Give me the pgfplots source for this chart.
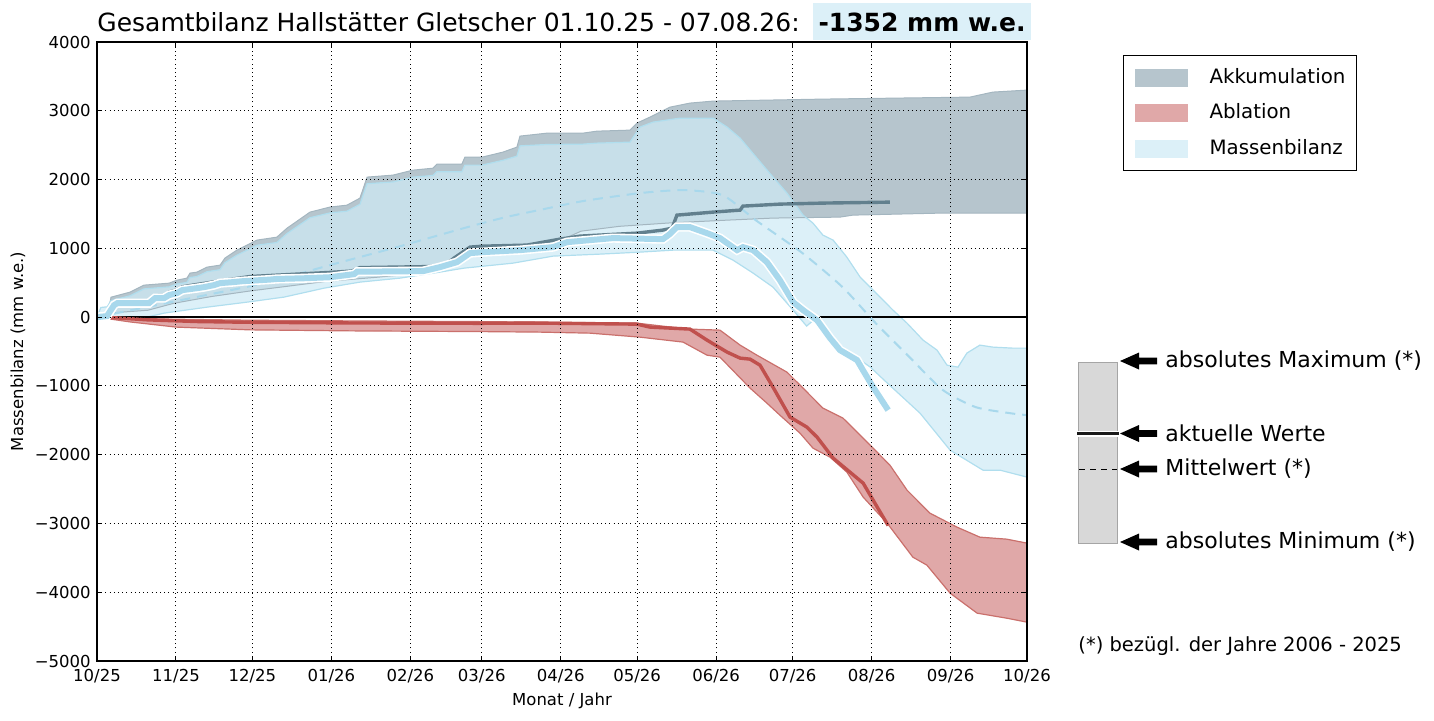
\documentclass[border=0pt]{standalone}
\usepackage{fontspec}
\setmainfont{DejaVu Sans}
\usepackage{pgfplots}
\pgfplotsset{compat=1.18}
\usepackage{pgfplotstable}
\usepgfplotslibrary{fillbetween}

\definecolor{accfill}{RGB}{182,197,205}
\definecolor{accedge}{RGB}{164,182,192}
\definecolor{ablfill}{RGB}{224,168,168}
\definecolor{abledge}{RGB}{202,112,108}
\definecolor{mbfill}{RGB}{206,234,245}
\definecolor{mbleg}{RGB}{220,240,248}
\definecolor{mbedge}{RGB}{176,222,238}
\definecolor{mbline}{RGB}{168,216,236}
\definecolor{accline}{RGB}{98,128,142}
\definecolor{ablline}{RGB}{192,80,77}
\definecolor{boxcol}{RGB}{220,240,248}
\definecolor{bargrey}{RGB}{216,216,216}
\definecolor{baredge}{RGB}{165,165,165}

% Akkumulation: maximum / minimum
\pgfplotstableread{
x y
0 0
4 0
5.5 290
13 364
18.4 465
28.3 494
31.4 538
35.3 567
36.5 640
39.2 654
43.2 727
48.3 756
50.2 858
54.9 974
62.8 1120
70.6 1163
74.6 1294
83.6 1527
91.4 1600
98.1 1628
103.2 1730
106 2036
116.2 2065
124 2137
131.9 2166
133.4 2225
143.2 2225
144.4 2326
151.1 2326
159.3 2399
164.8 2472
166 2632
176.6 2675
190.7 2675
196.2 2704
209.2 2719
211.9 2821
217 2908
224.9 3053
232.7 3112
241.8 3141
284.9 3170
342.6 3199
351.6 3272
365 3301
}\accU
\pgfplotstableread{
x y
0 0
5 60
20 100
30 200
45 300
60 380
75 450
90 520
110 580
130 650
140 870
160 950
178 1050
190 1250
205 1320
225 1370
247.3 1410
265.3 1440
291.6 1454
296.7 1483
330.8 1512
365 1512
}\accL
% Ablation: maximum / minimum
\pgfplotstableread{
x y
0 0
10 -15
30 -30
60 -45
100 -55
150 -65
173.9 -73
211.9 -87
222 -131
232.7 -174
244.5 -189
252.4 -407
259 -553
270.8 -800
277.1 -1032
284.9 -1323
292.8 -1469
300.7 -1759
311.2 -2152
317.9 -2515
326.9 -2850
337.5 -3053
346.5 -3199
357 -3228
365 -3286
}\abU
\pgfplotstableread{
x y
0 0
13 -70
31 -145
60 -185
100 -200
150 -210
173.9 -218
193.5 -233
213.1 -291
230 -363
239.4 -553
244.5 -582
256.3 -1032
262.9 -1250
268 -1425
275.9 -1687
281 -1905
287.7 -2036
294.3 -2254
300.7 -2617
310.1 -2995
320.2 -3490
325.7 -3606
334.8 -4013
345.4 -4304
357 -4377
365 -4435
}\abL
% Massenbilanz: maximum / minimum / Mittelwert
\pgfplotstableread{
x y
0 0
1.5 140
4 150
5.5 240
13 310
18.4 410
28.3 440
31.4 480
35.3 505
36.5 575
39.2 590
43.2 660
48.3 690
50.2 790
54.9 900
62.8 1045
70.6 1085
74.6 1215
83.6 1445
91.4 1515
98.1 1540
103.2 1640
106 1940
116.2 1965
124 2035
131.9 2060
133.4 2115
143.2 2115
144.4 2210
151.1 2210
159.3 2280
164.8 2340
166 2490
176.6 2510
190.7 2515
196.2 2530
209.2 2544
213.1 2763
218.2 2835
228.8 2893
241.8 2893
247.3 2763
252.4 2603
259 2312
265.3 2036
270.8 1803
277.1 1483
281 1367
284.9 1192
288.9 1120
294.3 872
299.5 582
304.6 393
312.4 102
317.9 -87
324.2 -334
329.7 -480
333.6 -698
337.9 -727
341.4 -523
346.5 -407
351.6 -436
359.5 -451
365 -451
}\mbU
\pgfplotstableread{
x y
0 0
19.6 0
26.3 58
43.2 145
58.9 218
73.4 291
89.1 421
103.2 509
118.9 567
134.6 654
144 712
163.3 785
179 887
197.4 916
213.1 945
226.1 974
241.8 974
249.6 829
257.5 640
265.3 436
273.2 102
278.5 -130
281.7 -30
289 -334
296.8 -553
303.5 -727
310.2 -960
323 -1396
334.8 -1934
347.7 -2225
354.4 -2225
365 -2326
}\mbL
\pgfplotstableread{
x y
0 0
20 150
40 300
60 450
77.3 611
91.4 756
117.7 1018
144 1294
160 1450
174 1560
190.7 1687
213.1 1803
230 1847
245.5 1774
258.5 1410
276.9 930
292.6 436
305.6 -87
318.9 -582
332 -1061
344.9 -1309
358.2 -1396
365 -1425
}\mbM
% aktuelle Werte 2025/26
\pgfplotstableread{
x y
0 0
3.9 15
6.7 174
8 203
20.4 203
22.8 276
26.3 276
28.3 320
31.4 349
33.4 392
39.2 421
42 436
45.9 465
48.3 494
53.4 509
57.3 523
67.5 545
70.6 555
81.2 565
91.4 580
100.9 625
102.1 660
128 669
134.6 727
141.3 800
146.4 931
151.5 945
166 974
179 1018
184.5 1090
202.5 1149
222.1 1134
224.9 1210
227.6 1309
232.7 1309
239.4 1221
244.5 1149
251.2 974
253.5 1018
257.5 974
262.9 800
268 538
273.2 218
277.1 102
282.6 -44
287.7 -305
291.6 -480
298.3 -625
300.6 -771
304.6 -1018
310.5 -1352
}\mbC
\pgfplotstableread{
x y
0 0
3.9 20
6.7 185
8 215
20.4 230
22.8 310
26.3 315
28.3 365
31.4 395
33.4 440
39.2 475
42 490
47 520
60 590
91.4 650
100 670
103.2 720
130.7 735
137 760
140.1 858
146.4 1018
151.5 1032
168.7 1047
181.7 1134
189.6 1178
211.9 1221
222 1265
225.7 1294
227.6 1483
241.8 1527
252.4 1556
253.5 1614
268 1643
284.9 1658
311.2 1672
}\accC
\pgfplotstableread{
x y
0 0
5 -5
20 -40
40 -65
60 -75
100 -85
150 -90
173.9 -87
211.9 -102
217 -145
232.7 -174
239.4 -334
247.3 -509
252.4 -596
256.3 -611
260.2 -698
265.3 -1018
272 -1454
278.6 -1599
282.6 -1745
288.9 -2050
295.5 -2254
300.7 -2414
304.6 -2661
310.5 -3030
}\abC

\begin{document}
\begin{tikzpicture}
\begin{axis}[
  at={(48.5pt,-330.5pt)}, anchor=south west,
  scale only axis, width=465pt, height=309.5pt,
  xmin=0, xmax=365, ymin=-5000, ymax=4000,
  xtick={0,31,61,92,123,151,182,212,243,273,304,335,365},
  xticklabels={10/25,11/25,12/25,01/26,02/26,03/26,04/26,05/26,06/26,07/26,08/26,09/26,10/26},
  ytick={-5000,-4000,-3000,-2000,-1000,0,1000,2000,3000,4000},
  yticklabels={−5000,−4000,−3000,−2000,−1000,0,1000,2000,3000,4000},
  tick label style={font=\fontsize{8.25}{10}\selectfont},
  xticklabel style={anchor=center, inner sep=0pt, yshift=-7.6pt},
  yticklabel style={anchor=east, inner sep=0pt, xshift=-3pt},
  xlabel={Monat / Jahr}, ylabel={Massenbilanz (mm w.e.)},
  label style={font=\fontsize{8.25}{10}\selectfont},
  xlabel style={at={(axis description cs:0.5,-0.0646)}, anchor=center, inner sep=0pt},
  ylabel style={at={(axis description cs:-0.0849,0.5)}, anchor=center, inner sep=0pt},
  grid=major,
  major grid style={black, line width=0.5pt, dash pattern=on 0.5pt off 1.6pt},
  tick align=inside, xtick pos=both, ytick pos=both,
  major tick length=2.6pt,
  tick style={black, line width=0.5pt},
  axis line style={line width=0.6pt},
  axis on top,
  legend style={at={(axis description cs:1.1032,0.979)}, anchor=north west,
    draw=black, line width=0.6pt, inner xsep=5.5pt, inner ysep=6.5pt,
    row sep=8.8pt, font=\fontsize{9.9}{12}\selectfont,
    nodes={inner sep=0pt, text height=7.2pt, text depth=1.8pt},
    /tikz/every odd column/.append style={column sep=11pt}},
  legend cell align=left,
  legend image code/.code={\path[draw=none,#1,draw=none] (0pt,-4.5pt) rectangle (26.5pt,4.5pt);},
]
% Akkumulation band
\addplot[name path=accU, draw=none, forget plot] table {\accU};
\addplot[name path=accL, draw=none, forget plot] table {\accL};
\addplot[fill=accfill, draw=none, forget plot] fill between[of=accU and accL];
\addplot[accedge, line width=0.5pt, forget plot] table {\accU};
\addplot[accedge, line width=0.5pt, forget plot] table {\accL};
% Ablation band
\addplot[name path=abU, draw=none, forget plot] table {\abU};
\addplot[name path=abL, draw=none, forget plot] table {\abL};
\addplot[fill=ablfill, draw=none, forget plot] fill between[of=abU and abL];
\addplot[abledge, line width=0.6pt, forget plot] table {\abU};
\addplot[abledge, line width=0.6pt, forget plot] table {\abL};
% Massenbilanz band
\addplot[name path=mbU, draw=none, forget plot] table {\mbU};
\addplot[name path=mbL, draw=none, forget plot] table {\mbL};
\addplot[fill=mbfill, fill opacity=0.72, draw=none, forget plot] fill between[of=mbU and mbL];
\addplot[mbedge, line width=0.6pt, forget plot] table {\mbU};
\addplot[mbedge, line width=0.6pt, forget plot] table {\mbL};
% zero line
\addplot[black, line width=1pt, forget plot] coordinates {(0,0) (365,0)};
% Mittelwert Massenbilanz
\addplot[mbline, line width=1pt, dash pattern=on 5pt off 3.5pt, smooth, tension=0.4, forget plot] table {\mbM};
% aktuelle Werte
\addplot[accline, line width=1.7pt, forget plot] table {\accC};
\addplot[ablline, line width=1.7pt, forget plot] table {\abC};
\addplot[white, line width=4.6pt, forget plot] table {\mbC};
\addplot[mbline, line width=3pt, forget plot] table {\mbC};
% legend
\addlegendimage{fill=accfill}
\addlegendentry{Akkumulation}
\addlegendimage{fill=ablfill}
\addlegendentry{Ablation}
\addlegendimage{fill=mbleg}
\addlegendentry{Massenbilanz}
\end{axis}

\begin{scope}[x=0.5pt,y=-0.5pt]
% title
\node[anchor=base west, inner sep=0pt, font=\fontsize{12.5}{15}\selectfont] at (97,31) {Gesamtbilanz Hallstätter Gletscher 01.10.25 - 07.08.26:};
\fill[boxcol] (813,3) rectangle (1031,40);
\node[anchor=base, inner sep=0pt, font=\bfseries\fontsize{12.5}{15}\selectfont] at (922,31) {-1352 mm w.e.};
% explanation bar
\filldraw[fill=bargrey, draw=baredge, line width=0.5pt] (1078,362) rectangle (1117,543);
\draw[white, line width=3pt] (1077,433.5) -- (1119,433.5);
\draw[black!90, line width=1.7pt] (1077,433.5) -- (1119,433.5);
\draw[black, line width=0.5pt, dash pattern=on 3pt off 2.5pt] (1079,469) -- (1117,469);
\foreach \yy in {361,433.5,469,542}{
  \fill[black] (1120,\yy) -- (1139,\yy-8.5) -- (1139,\yy-3.3) -- (1157,\yy-3.3) -- (1157,\yy+3.3) -- (1139,\yy+3.3) -- (1139,\yy+8.5) -- cycle;
}
\node[anchor=west, inner sep=0pt, font=\fontsize{11}{13}\selectfont] at (1165,361) {absolutes Maximum (*)};
\node[anchor=west, inner sep=0pt, font=\fontsize{11}{13}\selectfont] at (1165,433.5) {aktuelle Werte};
\node[anchor=west, inner sep=0pt, font=\fontsize{11}{13}\selectfont] at (1165,469) {Mittelwert (*)};
\node[anchor=west, inner sep=0pt, font=\fontsize{11}{13}\selectfont] at (1165,542) {absolutes Minimum (*)};
\node[anchor=west, inner sep=0pt, font=\fontsize{9.75}{12}\selectfont] at (1078,646) {(*) bezügl. der Jahre 2006 - 2025};
\end{scope}
\pgfresetboundingbox
\path[use as bounding box] (0pt,0pt) rectangle (717pt,-360pt);
\end{tikzpicture}
\end{document}
